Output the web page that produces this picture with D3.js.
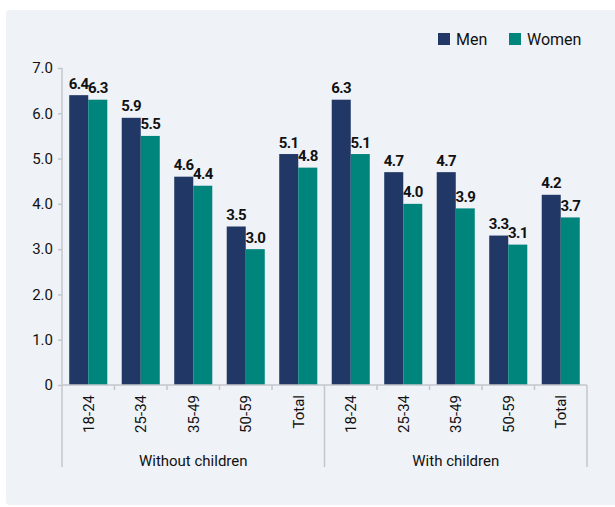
<!DOCTYPE html>
<html><head><meta charset="utf-8">
<script src="https://cdn.jsdelivr.net/npm/d3@7"></script>
<style>
html,body{margin:0;padding:0;background:#fff;}
svg{display:block;}
text{font-family:"Roboto",sans-serif;fill:#111;}
</style></head>
<body>
<svg id="chart" width="615" height="507"></svg>
<script>
const groups = ["Without children", "With children"];
const ageGroups = ["18-24", "25-34", "35-49", "50-59", "Total"];
const series = ["Men", "Women"];
const menValues = [6.4, 5.9, 4.6, 3.5, 5.1, 6.3, 4.7, 4.7, 3.3, 4.2];
const womenValues = [6.3, 5.5, 4.4, 3.0, 4.8, 5.1, 4.0, 3.9, 3.1, 3.7];
const yTicks = [0, 1, 2, 3, 4, 5, 6, 7];
const colors = ["#213765", "#00857c"];

(function () {
const categories = [];
groups.forEach((g, gi) => ageGroups.forEach((a, ai) => categories.push({key: g + "|" + a, group: g, label: a})));
const rows = categories.map((c, i) => ({...c, values: [menValues[i], womenValues[i]]}));

const svg = d3.select("#chart");
svg.append("rect").attr("x", 6).attr("y", 10).attr("width", 615).attr("height", 495).attr("rx", 3).attr("fill", "#eff2f7");

const mLeft = 62, mRight = 587, mTop = 68, mBottom = 385;
const x = d3.scaleBand().domain(categories.map(c => c.key)).range([mLeft, mRight]).paddingInner(0).paddingOuter(0);
const xs = d3.scaleBand().domain(series).range([0, x.bandwidth()]).paddingInner(0).paddingOuter(0.38);
const y = d3.scaleLinear().domain([0, 7]).range([mBottom, mTop]);

const axisColor = "#c3c7cc";

// bars
const g = svg.append("g");
const cat = g.selectAll("g.cat").data(rows).join("g").attr("transform", d => `translate(${x(d.key)},0)`);
cat.selectAll("rect").data(d => d.values.map((v, i) => ({s: series[i], v, i}))).join("rect")
  .attr("x", d => xs(d.s)).attr("width", xs.bandwidth())
  .attr("y", d => y(d.v)).attr("height", d => y(0) - y(d.v))
  .attr("fill", d => colors[d.i]);
cat.selectAll("text.val").data(d => d.values.map((v, i) => ({s: series[i], v, i}))).join("text")
  .attr("class", "val")
  .attr("x", d => xs(d.s) + xs.bandwidth() / 2).attr("y", d => y(d.v) - 6.5)
  .attr("text-anchor", "middle").attr("font-size", 15).attr("font-weight", "bold")
  .attr("letter-spacing", -0.6)
  .text(d => d.v.toFixed(1));

// y axis
const yAxis = d3.axisLeft(y).tickValues(yTicks).tickSize(4).tickPadding(5)
  .tickFormat(d => d === 0 ? "0" : d3.format(".1f")(d));
const ya = svg.append("g").attr("transform", `translate(${mLeft},0)`).call(yAxis);
ya.attr("font-family", null);
ya.select(".domain").remove();
ya.selectAll("line").attr("stroke", axisColor).attr("stroke-width", 1.5);
ya.selectAll("text").attr("font-size", 15).attr("fill", "#111");
svg.append("line").attr("x1", mLeft).attr("x2", mLeft).attr("y1", y(7)).attr("y2", 467)
  .attr("stroke", axisColor).attr("stroke-width", 1.5);

// x axis
svg.append("line").attr("x1", mLeft).attr("x2", mRight).attr("y1", mBottom).attr("y2", mBottom)
  .attr("stroke", axisColor).attr("stroke-width", 1.5);
const boundaries = categories.map(c => x(c.key) + x.bandwidth());
svg.selectAll("line.xt").data(boundaries).join("line").attr("class", "xt")
  .attr("x1", d => d).attr("x2", d => d).attr("y1", mBottom).attr("y2", (d, i) => (i % 5 === 4) ? 467 : mBottom + 5)
  .attr("stroke", axisColor).attr("stroke-width", 1.5);

svg.selectAll("text.cat").data(categories).join("text").attr("class", "cat")
  .attr("transform", d => `translate(${x(d.key) + x.bandwidth() / 2},395) rotate(-90)`)
  .attr("text-anchor", "end").attr("dy", "0.35em").attr("font-size", 15)
  .text(d => d.label);

svg.selectAll("text.grp").data(groups).join("text").attr("class", "grp")
  .attr("x", gname => {
    const ks = categories.filter(c => c.group === gname);
    return (x(ks[0].key) + x(ks[ks.length - 1].key) + x.bandwidth()) / 2;
  })
  .attr("y", 466).attr("text-anchor", "middle").attr("font-size", 15)
  .text(d => d);

// legend
const legendX = [438, 509];
const lg = svg.selectAll("g.lg").data(series).join("g").attr("class", "lg")
  .attr("transform", (d, i) => `translate(${legendX[i]},33)`);
lg.append("rect").attr("width", 12).attr("height", 12).attr("fill", (d, i) => colors[i]);
lg.append("text").attr("x", 18).attr("y", 12).attr("font-size", 16).text(d => d);
})();
</script>
</body></html>
